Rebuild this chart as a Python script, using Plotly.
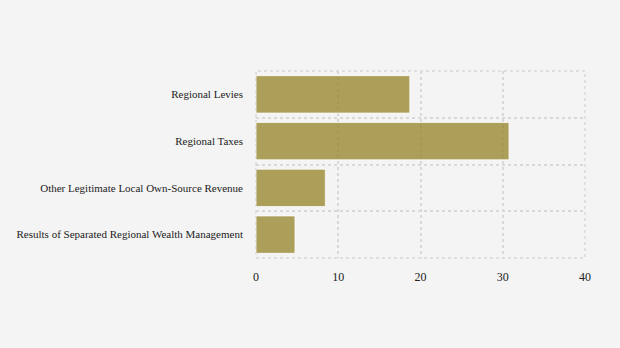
import plotly.graph_objects as go

categories = [
    "Results of Separated Regional Wealth Management",
    "Other Legitimate Local Own-Source Revenue",
    "Regional Taxes",
    "Regional Levies",
]
values = [4.74, 8.43, 30.76, 18.7]
x_ticks = [0, 10, 20, 30, 40]

fig = go.Figure(
    go.Bar(
        x=values,
        y=categories,
        orientation="h",
        marker=dict(color="rgb(155,138,52)", opacity=0.8,
                    line=dict(color="rgba(255,255,255,0.8)", width=1)),
        width=0.8,
    )
)

GRID_COLOR = "#d9d9d9"
grid = dict(gridcolor=GRID_COLOR, gridwidth=1.5, griddash="dot")

fig.update_layout(
    width=620,
    height=348,
    margin=dict(l=256, r=35, t=71, b=90),
    paper_bgcolor="#f4f4f4",
    plot_bgcolor="#f4f4f4",
    font=dict(family="Times New Roman", size=12, color="#222222"),
    showlegend=False,
    shapes=[dict(type="rect", xref="paper", yref="paper", x0=0, x1=1, y0=0, y1=1,
                 line=dict(color=GRID_COLOR, width=1.5, dash="dot"), layer="below")],
)
fig.update_xaxes(range=[0, 40], tickvals=x_ticks, showgrid=True, zeroline=False,
                 showline=False, ticks="", tickfont=dict(size=12),
                 ticklabelstandoff=10, **grid)
fig.update_yaxes(type="category", categoryorder="array", categoryarray=categories,
                 tickson="boundaries", showgrid=True, ticks="", showline=False,
                 tickfont=dict(size=11), ticklabelstandoff=12, **grid)

fig.write_html("out.html")
